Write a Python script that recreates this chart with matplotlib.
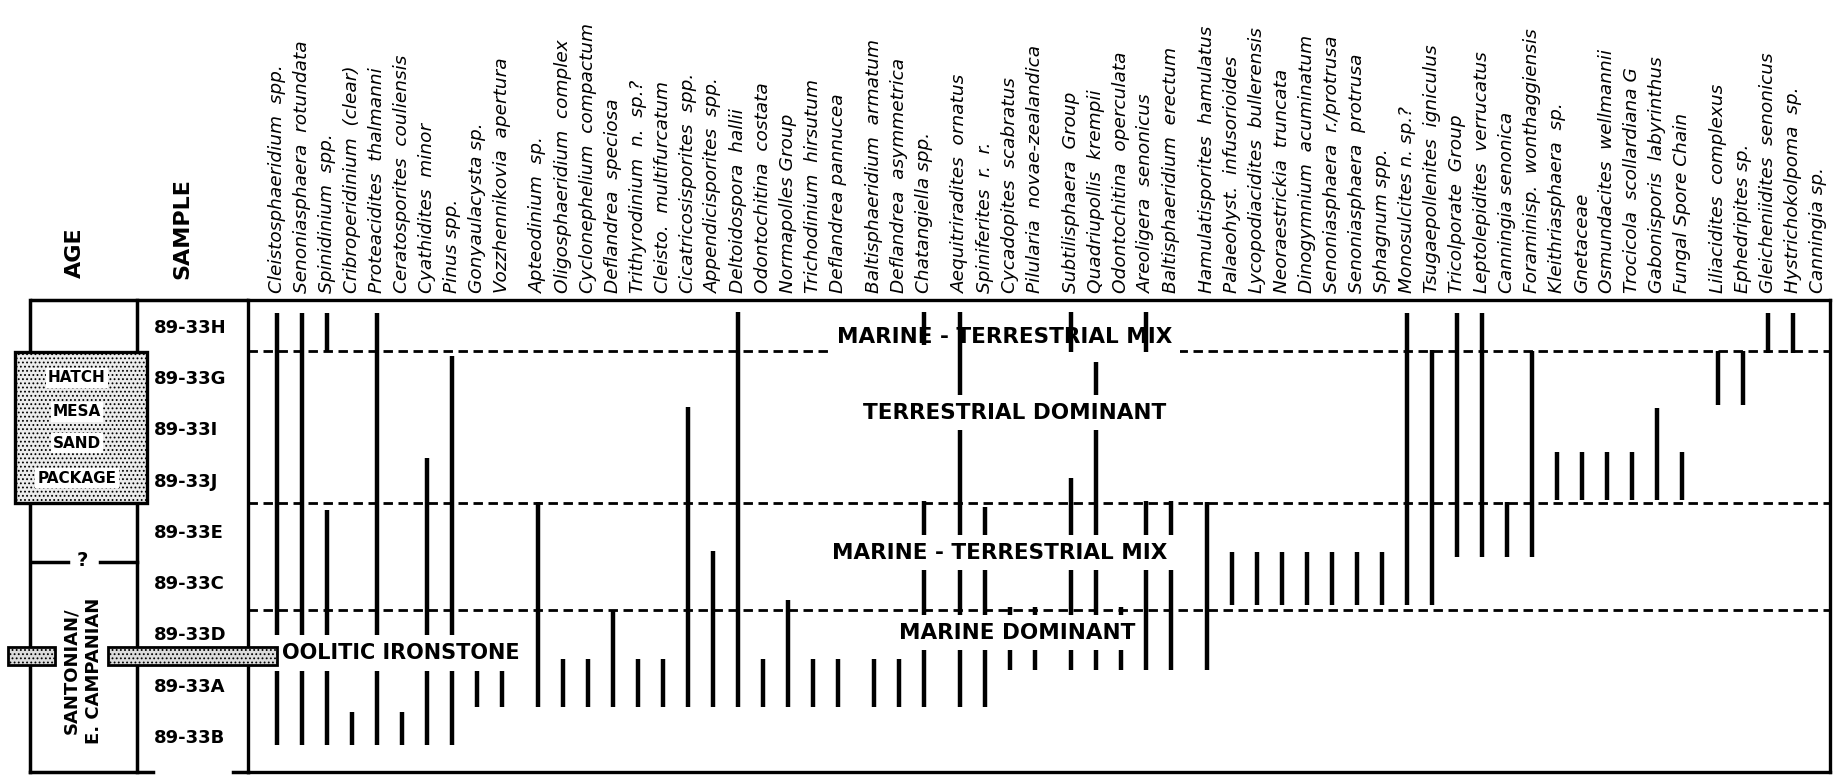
import matplotlib
matplotlib.use('Agg')
import matplotlib.pyplot as plt
from matplotlib.patches import Rectangle

plt.rcParams['font.family'] = ['DejaVu Sans']
plt.rcParams['hatch.color'] = '#a8a8a8'
plt.rcParams['hatch.linewidth'] = 0.8

# samples, top (youngest) to bottom
samples = ['89-33H', '89-33G', '89-33I', '89-33J', '89-33E',
           '89-33C', '89-33D', '89-33A', '89-33B']

# taxa, left to right
taxa = ['Cleistosphaeridium  spp.', 'Senoniasphaera  rotundata', 'Spinidinium  spp.',
        'Cribroperidinium  (clear)', 'Proteacidites  thalmanni', 'Ceratosporites  couliensis',
        'Cyathidites  minor', 'Pinus spp.', 'Gonyaulacysta sp.', 'Vozzhennikovia  apertura',
        'Apteodinium  sp.', 'Oligosphaeridium  complex', 'Cyclonephelium  compactum',
        'Deflandrea  speciosa', 'Trithyrodinium  n.  sp.?', 'Cleisto.  multifurcatum',
        'Cicatricosisporites  spp.', 'Appendicisporites  spp.', 'Deltoidospora  hallii',
        'Odontochitina  costata', 'Normapolles Group', 'Trichodinium  hirsutum',
        'Deflandrea pannucea', 'Baltisphaeridium  armatum', 'Deflandrea  asymmetrica',
        'Chatangiella spp.', 'Aequitriradites  ornatus', 'Spiniferites  r.  r.',
        'Cycadopites  scabratus', 'Pilularia  novae-zealandica', 'Subtilisphaera  Group',
        'Quadriupollis  krempii', 'Odontochitina  operculata', 'Areoligera  senonicus',
        'Baltisphaeridium  erectum', 'Hamulatisporites  hamulatus', 'Palaeohyst.  infusorioides',
        'Lycopodiacidites  bullerensis', 'Neoraestrickia  truncata', 'Dinogymnium  acuminatum',
        'Senoniasphaera  r./protrusa', 'Senoniasphaera  protrusa', 'Sphagnum spp.',
        'Monosulcites n. sp.?', 'Tsugaepollenites  igniculus', 'Tricolporate  Group',
        'Leptolepidites  verrucatus', 'Canningia senonica', 'Foraminisp.  wonthaggiensis',
        'Kleithriasphaera  sp.', 'Gnetaceae', 'Osmundacites  wellmannii',
        'Trocicola  scollardiana G', 'Gabonisporis  labyrinthus', 'Fungal Spore Chain',
        'Liliacidites  complexus', 'Ephedripites sp.', 'Gleicheniidites  senonicus',
        'Hystrichokolpoma  sp.', 'Canningia sp.']

# columns followed by a wider gap in the original layout
gap_after = ['Vozzhennikovia  apertura', 'Deflandrea pannucea', 'Chatangiella spp.',
             'Pilularia  novae-zealandica', 'Baltisphaeridium  erectum', 'Fungal Spore Chain']

# occurrence ranges (top, bottom) in sample-row units, 0 = top of 89-33H
ranges = [
    [(0.25, 8.67)], [(0.25, 8.67)], [(0.25, 1.0), (4.1, 8.67)], [(8.03, 8.67)],
    [(0.25, 8.67)], [(8.03, 8.67)], [(3.08, 8.67)], [(1.1, 8.67)],
    [(7.0, 7.93)], [(7.0, 7.93)],
    [(3.93, 7.93)], [(7.0, 7.93)], [(7.0, 7.93)], [(6.04, 7.93)], [(7.0, 7.93)], [(7.0, 7.93)],
    [(2.08, 7.93)], [(4.9, 7.93)], [(0.24, 7.93)], [(7.0, 7.93)], [(5.85, 7.93)],
    [(7.0, 7.93)], [(7.0, 7.93)],
    [(7.0, 7.93)], [(7.0, 7.93)], [(0.24, 0.88), (3.92, 7.93)],
    [(0.24, 7.93)], [(4.03, 7.93)], [(5.98, 7.21)], [(5.98, 7.21)],
    [(0.24, 1.02), (3.47, 7.21)], [(1.2, 7.21)], [(5.98, 7.21)],
    [(0.24, 1.02), (3.92, 7.21)], [(3.92, 7.21)],
    [(3.93, 7.21)], [(4.91, 5.95)], [(4.91, 5.95)], [(4.91, 5.95)], [(4.91, 5.95)],
    [(4.91, 5.95)], [(4.91, 5.95)], [(4.91, 5.95)],
    [(0.25, 5.95)], [(0.97, 5.95)], [(0.25, 5.0)], [(0.25, 5.0)], [(3.93, 5.0)], [(1.0, 5.0)],
    [(2.96, 3.9)], [(2.96, 3.9)], [(2.96, 3.9)], [(2.96, 3.9)], [(2.11, 3.9)], [(2.96, 3.9)],
    [(1.0, 2.05)], [(1.0, 2.05)], [(0.25, 1.04)], [(0.25, 1.04)], [],
]

# boundaries between assemblages (row units)
zone_breaks = [1.0, 3.96, 6.04]

# assemblage labels: text, x (column units), y (row units)
zone_labels = [
    ('MARINE - TERRESTRIAL MIX', 29.1, 0.72),
    ('TERRESTRIAL DOMINANT', 29.5, 2.2),
    ('MARINE - TERRESTRIAL MIX', 28.9, 4.93),
    ('MARINE DOMINANT', 29.6, 6.49),
]

W, H = 1839, 777


def column_positions():
    pos = []
    x = 0.0
    for name in taxa:
        pos.append(x)
        x += 1.0
        if name in gap_after:
            x += 0.44
    return pos


def draw_chart():
    fig = plt.figure(figsize=(W / 100, H / 100), dpi=100)
    ax = fig.add_axes([248 / W, 5 / H, (1830 - 248) / W, 472 / H])
    left = fig.add_axes([0, 5 / H, 248 / W, 472 / H])

    nrows = 9.2
    xs = column_positions()

    # ---- main range panel
    ax.set_xlim(-1.16, 62.12)
    ax.set_ylim(nrows, 0)
    for sp in ax.spines.values():
        sp.set_linewidth(2.4)

    ax.xaxis.tick_top()
    ax.set_xticks(xs)
    ax.set_xticklabels(taxa, rotation=90, fontstyle='italic', fontsize=13.3)
    ax.tick_params(axis='x', length=0, pad=5)

    ax.set_yticks([i + 0.5 for i in range(len(samples))])
    ax.set_yticklabels(samples, fontsize=13, fontweight='bold', ha='left')
    ax.tick_params(axis='y', length=0, pad=68)

    for b in zone_breaks:
        ax.axhline(b, color='k', lw=2, ls=(0, (3.4, 2.0)), zorder=1)

    for x, segs in zip(xs, ranges):
        for top, bot in segs:
            ax.vlines(x, top, bot, color='k', lw=3.2, zorder=3)

    for i, (txt, x, y) in enumerate(zone_labels):
        # top label sits under the range bars, the others break them
        z = 2 if i == 0 else 4
        ax.text(x, y, txt, fontsize=15.5, fontweight='bold', ha='center', va='center',
                zorder=z, bbox=dict(boxstyle='square,pad=0.35', fc='white', ec='none'))

    ax.text(0.2, 6.88, 'OOLITIC IRONSTONE', fontsize=15, fontweight='bold',
            ha='left', va='center', zorder=4,
            bbox=dict(boxstyle='square,pad=0.4', fc='white', ec='none'))

    # ---- age / sample columns
    left.set_xlim(0, 248)
    left.set_ylim(nrows, 0)
    left.set_axis_off()
    lw = 2.5
    left.plot([30, 248], [0, 0], color='k', lw=lw, clip_on=False, solid_capstyle='butt')
    left.plot([30, 30], [0, nrows], color='k', lw=lw, clip_on=False)
    left.plot([137, 137], [0, nrows], color='k', lw=lw, clip_on=False)
    left.plot([30, 153], [nrows, nrows], color='k', lw=lw, clip_on=False)
    left.plot([233, 248], [nrows, nrows], color='k', lw=lw, clip_on=False)

    left.annotate('AGE', xy=(75, 0), xytext=(0, 16), textcoords='offset points',
                  rotation=90, ha='center', va='bottom', fontsize=16, fontweight='bold',
                  annotation_clip=False)
    left.annotate('SAMPLE', xy=(182, 0), xytext=(0, 15), textcoords='offset points',
                  rotation=90, ha='center', va='bottom', fontsize=16, fontweight='bold',
                  annotation_clip=False)

    # sand package box
    box = Rectangle((15, 1.01), 132, 2.95, facecolor='#ececec', edgecolor='k',
                    lw=2.4, hatch='....', zorder=5, clip_on=False)
    left.add_patch(box)
    for txt, y in zip(['HATCH', 'MESA', 'SAND', 'PACKAGE'], [1.52, 2.18, 2.79, 3.47]):
        left.text(77, y, txt, fontsize=11, fontweight='bold', ha='center', va='center',
                  zorder=6, bbox=dict(boxstyle='square,pad=0.15', fc='white', ec='none'))

    # uncertain age boundary
    left.plot([32, 68], [5.11, 5.11], color='k', lw=lw)
    left.plot([100, 137], [5.11, 5.11], color='k', lw=lw)
    left.text(82, 5.08, '?', fontsize=14, fontweight='bold', ha='center', va='center')

    left.text(83, 7.23, 'SANTONIAN/\nE. CAMPANIAN', rotation=90, fontsize=13,
              fontweight='bold', ha='center', va='center', linespacing=1.35)

    # oolitic ironstone marker band
    for x0, x1 in [(8, 55), (108, 277)]:
        left.add_patch(Rectangle((x0, 6.76), x1 - x0, 0.35, facecolor='#dcdcdc',
                                 edgecolor='k', lw=2, hatch='....', zorder=7, clip_on=False))

    fig.savefig('out.png', dpi=100)


if __name__ == '__main__':
    draw_chart()
